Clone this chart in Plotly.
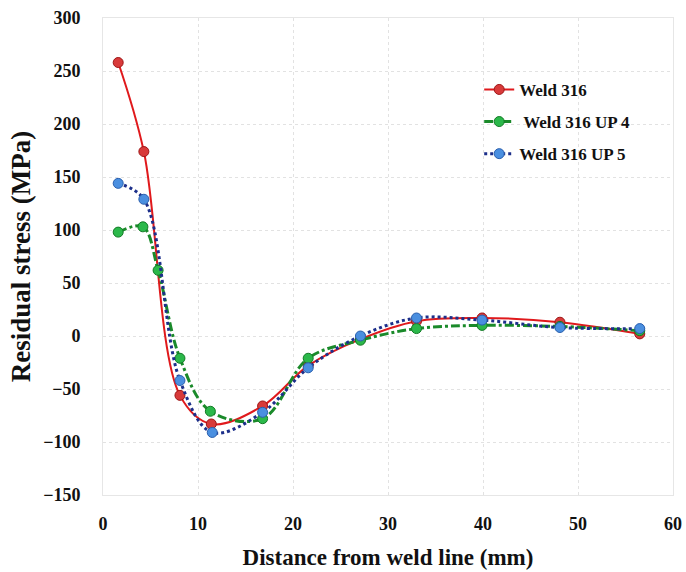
import plotly.graph_objects as go

# Measured residual stress profiles across the weld
x_weld = [1.6, 4.3, 8.1, 11.4, 16.8, 21.6, 27.1, 33.0, 39.9, 48.1, 56.5]
y_weld = [258, 174, -56, -83, -66, -28, -3, 14, 17, 13, 2]

x_up4 = [1.6, 4.2, 5.8, 8.1, 11.3, 16.8, 21.6, 27.1, 33.0, 39.9, 48.1, 56.5]
y_up4 = [98, 103, 62, -21, -71, -78, -21, -4, 7, 10, 9, 5]

x_up5 = [1.6, 4.3, 8.1, 11.5, 16.8, 21.6, 27.1, 33.0, 39.9, 48.1, 56.5]
y_up5 = [144, 129, -42, -91, -72, -30, 0, 17, 15, 8, 7]

x_ticks = [0, 10, 20, 30, 40, 50, 60]
y_ticks = [-150, -100, -50, 0, 50, 100, 150, 200, 250, 300]

FONT = "Liberation Serif"

fig = go.Figure()
fig.add_trace(go.Scatter(
    x=x_weld, y=y_weld, name="Weld 316", mode="lines+markers", legendgroup="a",
    line=dict(color="#e0191c", width=2, shape="spline", smoothing=1.0),
    marker=dict(size=10, color="#d83a3a", line=dict(color="#9e1515", width=1)),
))
fig.add_trace(go.Scatter(
    x=x_up4, y=y_up4, name=" Weld 316 UP 4", mode="lines+markers", legendgroup="b",
    line=dict(color="#1a8a2a", width=3, shape="spline", smoothing=1.0, dash="dashdot"),
    marker=dict(size=10, color="#2bb84a", line=dict(color="#127a25", width=1)),
))
fig.add_trace(go.Scatter(
    x=x_up5, y=y_up5, name="Weld 316 UP 5", mode="lines+markers", legendgroup="c",
    line=dict(color="#1c2f8a", width=3, shape="spline", smoothing=1.0, dash="dot"),
    marker=dict(size=10, color="#4a8fe0", line=dict(color="#2a5fae", width=1)),
))

axis_common = dict(
    showgrid=True, gridcolor="#e2e2e2", griddash="dot", gridwidth=1,
    zeroline=False, showline=True, linecolor="#e6e6e6", linewidth=1, mirror=True,
    tickfont=dict(family=FONT, size=18, color="#111", weight="bold"),
    ticks="", automargin=False,
)

fig.update_layout(
    width=686, height=572,
    margin=dict(l=103, r=13, t=18, b=77),
    paper_bgcolor="white", plot_bgcolor="white",
    font=dict(family=FONT, color="#111"),
    xaxis=dict(range=[0, 60], tickvals=x_ticks, ticklabelstandoff=12,
               title=dict(text="Distance from weld line (mm)",
                          font=dict(family=FONT, size=23, weight="bold"), standoff=16),
               **axis_common),
    yaxis=dict(range=[-150, 300], tickvals=y_ticks, ticklabelstandoff=18,
               title=dict(text="Residual stress (MPa)",
                          font=dict(family=FONT, size=27, weight="bold"), standoff=4),
               **axis_common),
    legend=dict(x=0.66, y=0.887, xanchor="left", yanchor="top",
                bgcolor="rgba(255,255,255,0)", borderwidth=0,
                font=dict(family=FONT, size=17, color="#111", weight="bold"),
                tracegroupgap=7, itemwidth=30),
)

fig.write_html("out.html")
